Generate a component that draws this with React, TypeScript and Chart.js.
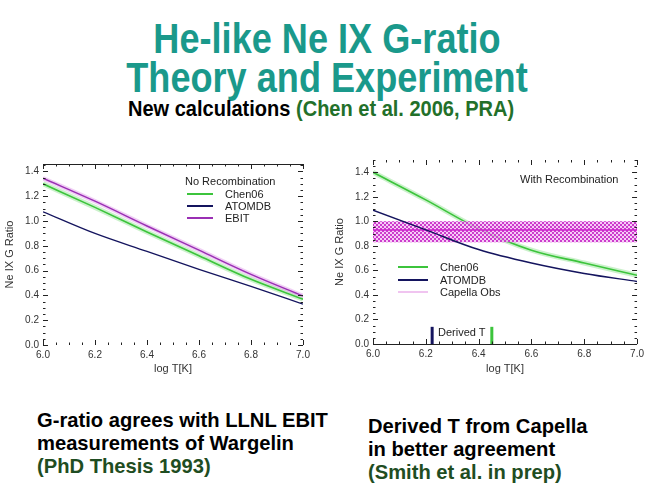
import React, { useEffect, useRef } from "react";
import { Chart, registerables } from "chart.js";

Chart.register(...registerables);

// ---------- data ----------
const temps = [6.0, 6.2, 6.4, 6.6, 6.8, 7.0];

// Left panel: no recombination
const chen06NoRec = [1.3, 1.11, 0.912, 0.72, 0.53, 0.37];
const atomdbNoRec = [1.075, 0.9, 0.755, 0.61, 0.472, 0.33];
const ebitNoRec = [1.345, 1.16, 0.96, 0.765, 0.57, 0.395];

// Right panel: with recombination
const chen06Rec = [1.4, 1.175, 0.94, 0.765, 0.66, 0.56];
const atomdbRec = [1.09, 0.93, 0.77, 0.66, 0.575, 0.51];
const capellaObs = 0.93;
const capellaLow = 0.83;
const capellaHigh = 1.0;
const derivedTAtomdb = 6.224;
const derivedTChen = 6.45;
const derivedTHeight = 0.14;

const xTickLabels = ["6.0", "6.2", "6.4", "6.6", "6.8", "7.0"];
const yAxisTitle = "Ne IX G Ratio";
const xAxisTitle = "log T[K]";

const FONT = "'Liberation Sans', Arial, sans-serif";
const GREEN = "#3cc43c";
const GREEN_GLOW = "rgba(140,225,140,0.45)";
const NAVY = "#14145e";
const PURPLE = "#9a2fb4";
const PURPLE_GLOW = "rgba(225,160,235,0.5)";
const CAPELLA = "#cc1fcc";
const TEAL = "#1a998b";
const DKGREEN = "#23702a";
const DKGREEN2 = "#1f4d22";

const pts = (xs: number[], ys: number[]) => xs.map((x, i) => ({ x, y: ys[i] }));

function idlTicks(topLine: boolean, bottomLine: boolean) {
  return {
    id: "idlTicks",
    afterDatasetsDraw(chart: any) {
      const { ctx, chartArea, scales } = chart;
      const { left, right, top, bottom } = chartArea;
      const x = scales.x;
      const y = scales.y;
      ctx.save();
      ctx.strokeStyle = "#222";
      ctx.lineWidth = 1;
      ctx.beginPath();
      const nx = Math.round((x.max - x.min) / 0.05);
      for (let i = 0; i <= nx; i++) {
        const px = Math.round(x.getPixelForValue(x.min + i * 0.05)) + 0.5;
        const len = i % 4 === 0 ? 5 : 2.5;
        ctx.moveTo(px, bottom);
        ctx.lineTo(px, bottom - len);
        ctx.moveTo(px, top);
        ctx.lineTo(px, top + len);
      }
      const ny = Math.floor((y.max - y.min) / 0.05 + 1e-6);
      for (let i = 0; i <= ny; i++) {
        const py = Math.round(y.getPixelForValue(y.min + i * 0.05)) + 0.5;
        const len = i % 4 === 0 ? 5 : 2.5;
        ctx.moveTo(left, py);
        ctx.lineTo(left + len, py);
        ctx.moveTo(right, py);
        ctx.lineTo(right - len, py);
      }
      if (topLine) {
        ctx.moveTo(left, Math.round(top) + 0.5);
        ctx.lineTo(right, Math.round(top) + 0.5);
      }
      if (bottomLine) {
        ctx.moveTo(left, Math.round(bottom) + 0.5);
        ctx.lineTo(right, Math.round(bottom) + 0.5);
      }
      ctx.stroke();
      ctx.restore();
    },
  };
}

function makeOptions(yMax: number, pad: any, yWidth: number, xHeight: number, yTitlePad: number) {
  return {
    animation: false,
    responsive: false,
    maintainAspectRatio: false,
    layout: { padding: pad },
    plugins: { legend: { display: false }, tooltip: { enabled: false } },
    elements: { point: { radius: 0 } },
    scales: {
      x: {
        type: "linear",
        min: 6,
        max: 7,
        grid: { display: false, drawTicks: false },
        border: { display: false },
        ticks: {
          stepSize: 0.2,
          padding: 4,
          maxRotation: 0,
          autoSkip: false,
          color: "#333",
          font: { size: 10, family: FONT },
          callback: (_v: any, i: number) => xTickLabels[i],
        },
        title: {
          display: true,
          text: xAxisTitle,
          color: "#333",
          font: { size: 11, family: FONT },
          padding: { top: 0, bottom: 9 },
        },
        afterFit: (s: any) => {
          s.height = xHeight;
        },
      },
      y: {
        type: "linear",
        min: 0,
        max: yMax,
        grid: { display: false, drawTicks: false },
        border: { display: false },
        ticks: {
          stepSize: 0.2,
          includeBounds: false,
          padding: 4,
          color: "#333",
          font: { size: 10, family: FONT },
          callback: (v: any) => Number(v).toFixed(1),
        },
        title: {
          display: true,
          text: yAxisTitle,
          color: "#333",
          font: { size: 11, family: FONT },
          padding: { top: yTitlePad, bottom: 0 },
        },
        afterFit: (s: any) => {
          s.width = yWidth;
        },
      },
    },
  };
}

const lineDs = (data: any, color: string, width: number) => ({
  data,
  borderColor: color,
  backgroundColor: color,
  borderWidth: width,
  tension: 0.35,
  cubicInterpolationMode: "monotone",
  fill: false,
  pointRadius: 0,
});

function LeftChart() {
  const ref = useRef<HTMLCanvasElement>(null);
  useEffect(() => {
    const chart = new Chart(ref.current as HTMLCanvasElement, {
      type: "line",
      data: {
        datasets: [
          lineDs(pts(temps, atomdbNoRec), NAVY, 1.3),
          lineDs(pts(temps, ebitNoRec), PURPLE, 1.5),
          lineDs(pts(temps, chen06NoRec), GREEN, 1.6),
          lineDs(pts(temps, ebitNoRec), PURPLE_GLOW, 4.5),
          lineDs(pts(temps, chen06NoRec), GREEN_GLOW, 5),
        ] as any,
      },
      options: makeOptions(1.46, { top: 14, right: 17, left: 0, bottom: 0 }, 43, 40, 3) as any,
      plugins: [idlTicks(true, false)],
    });
    return () => chart.destroy();
  }, []);
  return (
    <canvas
      ref={ref}
      width={320}
      height={235}
      style={{ position: "absolute", left: 0, top: 150, width: 320, height: 235 }}
    />
  );
}

function RightChart() {
  const ref = useRef<HTMLCanvasElement>(null);
  useEffect(() => {
    const pc = document.createElement("canvas");
    pc.width = 4;
    pc.height = 4;
    const pctx = pc.getContext("2d") as CanvasRenderingContext2D;
    pctx.fillStyle = "rgba(245,190,245,0.8)";
    pctx.fillRect(0, 0, 4, 4);
    pctx.fillStyle = "#cc3ccc";
    pctx.fillRect(0, 0, 2, 2);
    pctx.fillRect(2, 2, 2, 2);
    const ctx = (ref.current as HTMLCanvasElement).getContext("2d") as CanvasRenderingContext2D;
    const pattern = ctx.createPattern(pc, "repeat");

    const xRange = [temps[0], temps[temps.length - 1]];
    const chart = new Chart(ref.current as HTMLCanvasElement, {
      type: "line",
      data: {
        datasets: [
          {
            data: [
              { x: derivedTAtomdb, y: 0 },
              { x: derivedTAtomdb, y: derivedTHeight },
            ],
            borderColor: NAVY,
            borderWidth: 3,
            pointRadius: 0,
          },
          {
            data: [
              { x: derivedTChen, y: 0 },
              { x: derivedTChen, y: derivedTHeight },
            ],
            borderColor: GREEN,
            borderWidth: 3,
            pointRadius: 0,
          },
          lineDs(pts(temps, atomdbRec), NAVY, 1.5),
          {
            data: xRange.map((x) => ({ x, y: capellaObs })),
            borderColor: CAPELLA,
            borderWidth: 1.5,
            pointRadius: 0,
          },
          {
            data: xRange.map((x) => ({ x, y: capellaHigh })),
            borderWidth: 0,
            borderColor: "rgba(0,0,0,0)",
            backgroundColor: pattern,
            fill: "+1",
            pointRadius: 0,
          },
          {
            data: xRange.map((x) => ({ x, y: capellaLow })),
            borderWidth: 0,
            borderColor: "rgba(0,0,0,0)",
            pointRadius: 0,
            fill: false,
          },
          lineDs(pts(temps, chen06Rec), GREEN, 1.6),
          lineDs(pts(temps, chen06Rec), GREEN_GLOW, 5),
        ] as any,
      },
      options: makeOptions(1.5, { top: 5, right: 8, left: 0, bottom: 0 }, 43, 41, 3) as any,
      plugins: [idlTicks(false, true)],
    });
    return () => chart.destroy();
  }, []);
  return (
    <canvas
      ref={ref}
      width={318}
      height={235}
      style={{ position: "absolute", left: 330, top: 150, width: 318, height: 235 }}
    />
  );
}

const small: React.CSSProperties = {
  position: "absolute",
  fontFamily: FONT,
  fontSize: 11,
  lineHeight: "12px",
  color: "#222",
  whiteSpace: "nowrap",
};

function Swatch({ left, top, color, width = 26, h = 1.5 }: any) {
  return (
    <div
      style={{ position: "absolute", left, top: top - h / 2, width, height: h, background: color }}
    />
  );
}

export default function App() {
  return (
    <div
      style={{
        position: "absolute",
        left: 0,
        top: 0,
        width: 648,
        height: 504,
        background: "#fff",
        overflow: "hidden",
        fontFamily: FONT,
      }}
    >
      <div
        style={{
          position: "absolute",
          left: 3,
          top: 19,
          width: 648,
          textAlign: "center",
          fontSize: 43,
          fontWeight: "bold",
          lineHeight: "39px",
          color: TEAL,
          transform: "scaleX(0.84)",
          transformOrigin: "324px 0",
          whiteSpace: "nowrap",
        }}
      >
        He-like Ne IX G-ratio
        <br />
        Theory and Experiment
      </div>
      <div
        style={{
          position: "absolute",
          left: 128,
          top: 98,
          fontSize: 22,
          fontWeight: "bold",
          lineHeight: "22px",
          color: "#000",
          transform: "scaleX(0.91)",
          transformOrigin: "0 0",
          whiteSpace: "nowrap",
        }}
      >
        New calculations <span style={{ color: DKGREEN }}>(Chen et al. 2006, PRA)</span>
      </div>

      <LeftChart />
      <RightChart />

      {/* left legend */}
      <div style={{ ...small, left: 185, top: 175 }}>No Recombination</div>
      <Swatch left={187} top={194} color={GREEN} />
      <div style={{ ...small, left: 225, top: 188 }}>Chen06</div>
      <Swatch left={187} top={206} color={NAVY} />
      <div style={{ ...small, left: 225, top: 200 }}>ATOMDB</div>
      <Swatch left={187} top={218} color={PURPLE} />
      <div style={{ ...small, left: 225, top: 212 }}>EBIT</div>

      {/* right legend */}
      <div style={{ ...small, left: 520, top: 173 }}>With Recombination</div>
      <Swatch left={398} top={267} color={GREEN} width={30} />
      <div style={{ ...small, left: 440, top: 261 }}>Chen06</div>
      <Swatch left={398} top={280} color={NAVY} width={30} />
      <div style={{ ...small, left: 440, top: 274 }}>ATOMDB</div>
      <Swatch left={398} top={292} color="#f0c4f0" width={30} h={2} />
      <div style={{ ...small, left: 440, top: 286 }}>Capella Obs</div>
      <div style={{ ...small, left: 438, top: 326 }}>Derived T</div>

      {/* bottom notes */}
      <div
        style={{
          position: "absolute",
          left: 37,
          top: 408,
          fontSize: 21,
          fontWeight: "bold",
          lineHeight: "23px",
          color: "#000",
          transform: "scaleX(0.96)",
          transformOrigin: "0 0",
          whiteSpace: "nowrap",
        }}
      >
        G-ratio agrees with LLNL EBIT
        <br />
        measurements of Wargelin
        <br />
        <span style={{ color: DKGREEN2 }}>(PhD Thesis 1993)</span>
      </div>
      <div
        style={{
          position: "absolute",
          left: 368,
          top: 414,
          fontSize: 21,
          fontWeight: "bold",
          lineHeight: "23px",
          color: "#000",
          transform: "scaleX(0.96)",
          transformOrigin: "0 0",
          whiteSpace: "nowrap",
        }}
      >
        Derived T from Capella
        <br />
        in better agreement
        <br />
        <span style={{ color: DKGREEN2 }}>(Smith et al. in prep)</span>
      </div>
    </div>
  );
}
